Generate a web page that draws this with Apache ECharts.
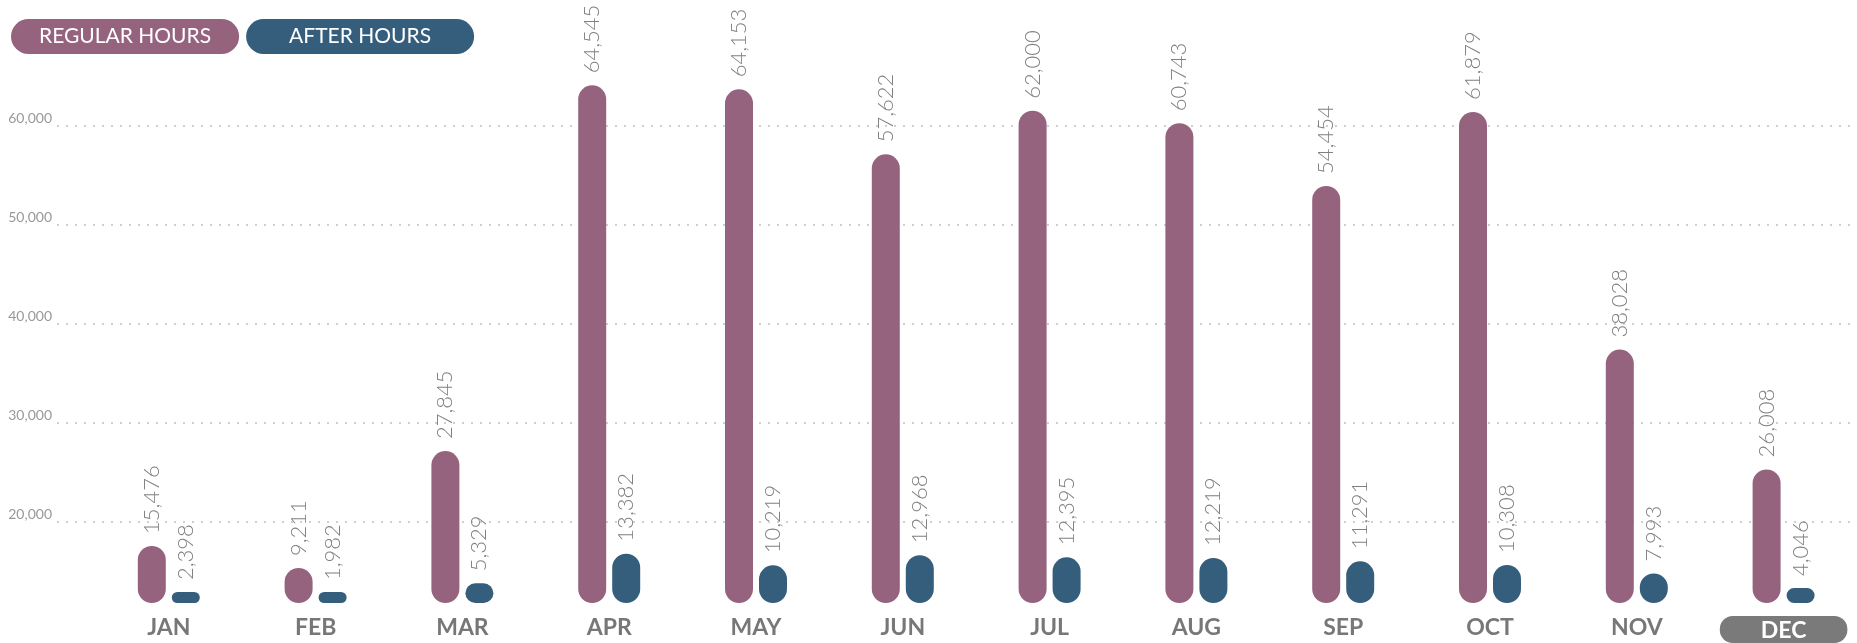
<!DOCTYPE html>
<html>
<head>
<meta charset="utf-8">
<script src="https://cdn.jsdelivr.net/npm/echarts@6/dist/echarts.min.js"></script>
<style>
html, body { margin: 0; padding: 0; background: #fff; }
#main { width: 1857px; height: 643px; }
</style>
</head>
<body>
<div id="main"></div>
<script>
var months = ['JAN', 'FEB', 'MAR', 'APR', 'MAY', 'JUN', 'JUL', 'AUG', 'SEP', 'OCT', 'NOV', 'DEC'];
var regularHours = [15476, 9211, 27845, 64545, 64153, 57622, 62000, 60743, 54454, 61879, 38028, 26008];
var afterHours = [2398, 1982, 5329, 13382, 10219, 12968, 12395, 12219, 11291, 10308, 7993, 4046];
var gridTicks = [20000, 30000, 40000, 50000, 60000];

var REG_COLOR = '#96637f';
var AFTER_COLOR = '#355e7c';
var REG_MIN = 12600;

function fmt(v) {
    return String(v).replace(/\B(?=(\d{3})+(?!\d))/g, ',');
}

var myChart = echarts.init(document.getElementById('main'));

// rounded bar + rotated value label, drawn from the axis scale
// small bars never get shorter than they would on the after-hours axis
function roundBar(minVal, minH, color, shift, floorAxis) {
    return function (params, api) {
        var idx = api.value(0);
        var v = api.value(1);
        var base = api.coord([idx, minVal]);
        var top = api.coord([idx, v]);
        var h = Math.max(base[1] - top[1], minH);
        if (floorAxis != null) {
            var alt = myChart.convertToPixel({ yAxisIndex: floorAxis }, v);
            if (isFinite(alt)) {
                h = Math.max(h, base[1] - alt);
            }
        }
        var cx = base[0] + shift;
        var y0 = base[1] - h;
        return {
            type: 'group',
            children: [{
                type: 'rect',
                shape: { x: cx - 14, y: y0, width: 28, height: h, r: 14 },
                style: { fill: color }
            }, {
                type: 'text',
                x: cx,
                y: y0 - 12,
                rotation: Math.PI / 2,
                style: {
                    text: fmt(v),
                    fill: '#808080',
                    fontSize: 22,
                    fontWeight: 300,
                    fontFamily: 'Lato',
                    align: 'left',
                    verticalAlign: 'middle'
                }
            }]
        };
    };
}

option = {
    animation: false,
    legend: {
        left: 1,
        top: 14,
        itemWidth: 0,
        itemHeight: 0,
        itemGap: 2,
        selectedMode: false,
        textStyle: {
            fontFamily: 'Lato',
            fontSize: 21,
            lineHeight: 21,
            color: '#fff',
            borderRadius: 17.5
        },
        data: [
            { name: 'REGULAR HOURS', textStyle: { backgroundColor: REG_COLOR, padding: [7, 28] } },
            { name: 'AFTER HOURS', textStyle: { backgroundColor: AFTER_COLOR, padding: [7, 43] } }
        ]
    },
    grid: [
        { left: 57, right: 0, top: 125.7, bottom: 121.3 },
        { left: 95.4, width: 1766, top: 35, bottom: 38 }
    ],
    xAxis: [{
        type: 'value',
        gridIndex: 0,
        min: 0,
        max: 1,
        show: false
    }, {
        type: 'category',
        gridIndex: 1,
        data: months,
        axisLine: { show: false },
        axisTick: { show: false },
        axisLabel: {
            margin: 13,
            color: '#777',
            fontFamily: 'Lato',
            fontWeight: 'bold',
            fontSize: 23,
            formatter: function (v) {
                return v === 'DEC' ? '{hl|' + v + '}' : v;
            },
            rich: {
                hl: {
                    color: '#fff',
                    backgroundColor: '#7a7a7a',
                    borderRadius: 13,
                    padding: [3, 41, 1, 41],
                    fontFamily: 'Lato',
                    fontWeight: 'bold',
                    fontSize: 23
                }
            }
        }
    }],
    yAxis: [{
        type: 'value',
        gridIndex: 0,
        min: 20000,
        max: 60000,
        interval: 10000,
        axisLine: { show: false },
        axisTick: { show: false },
        axisLabel: {
            margin: 5,
            color: '#999',
            fontFamily: 'Lato',
            fontSize: 14,
            verticalAlign: 'bottom',
            formatter: function (v) {
                return gridTicks.indexOf(v) >= 0 ? fmt(v) : '';
            }
        },
        splitLine: {
            lineStyle: { color: '#cfcfcf', width: 2, type: [2, 7] }
        }
    }, {
        type: 'value',
        gridIndex: 1,
        min: REG_MIN,
        max: 69600,
        show: false,
        splitLine: { show: false }
    }, {
        type: 'value',
        gridIndex: 1,
        min: 0,
        max: 154000,
        show: false,
        splitLine: { show: false }
    }],
    series: [{
        name: 'REGULAR HOURS',
        type: 'custom',
        xAxisIndex: 1,
        yAxisIndex: 1,
        itemStyle: { color: REG_COLOR },
        renderItem: roundBar(REG_MIN, 35, REG_COLOR, -17, 2),
        data: regularHours.map(function (v, i) { return [i, v]; })
    }, {
        name: 'AFTER HOURS',
        type: 'custom',
        xAxisIndex: 1,
        yAxisIndex: 2,
        itemStyle: { color: AFTER_COLOR },
        renderItem: roundBar(0, 11, AFTER_COLOR, 17, null),
        data: afterHours.map(function (v, i) { return [i, v]; })
    }]
};
myChart.setOption(option);
</script>
</body>
</html>
